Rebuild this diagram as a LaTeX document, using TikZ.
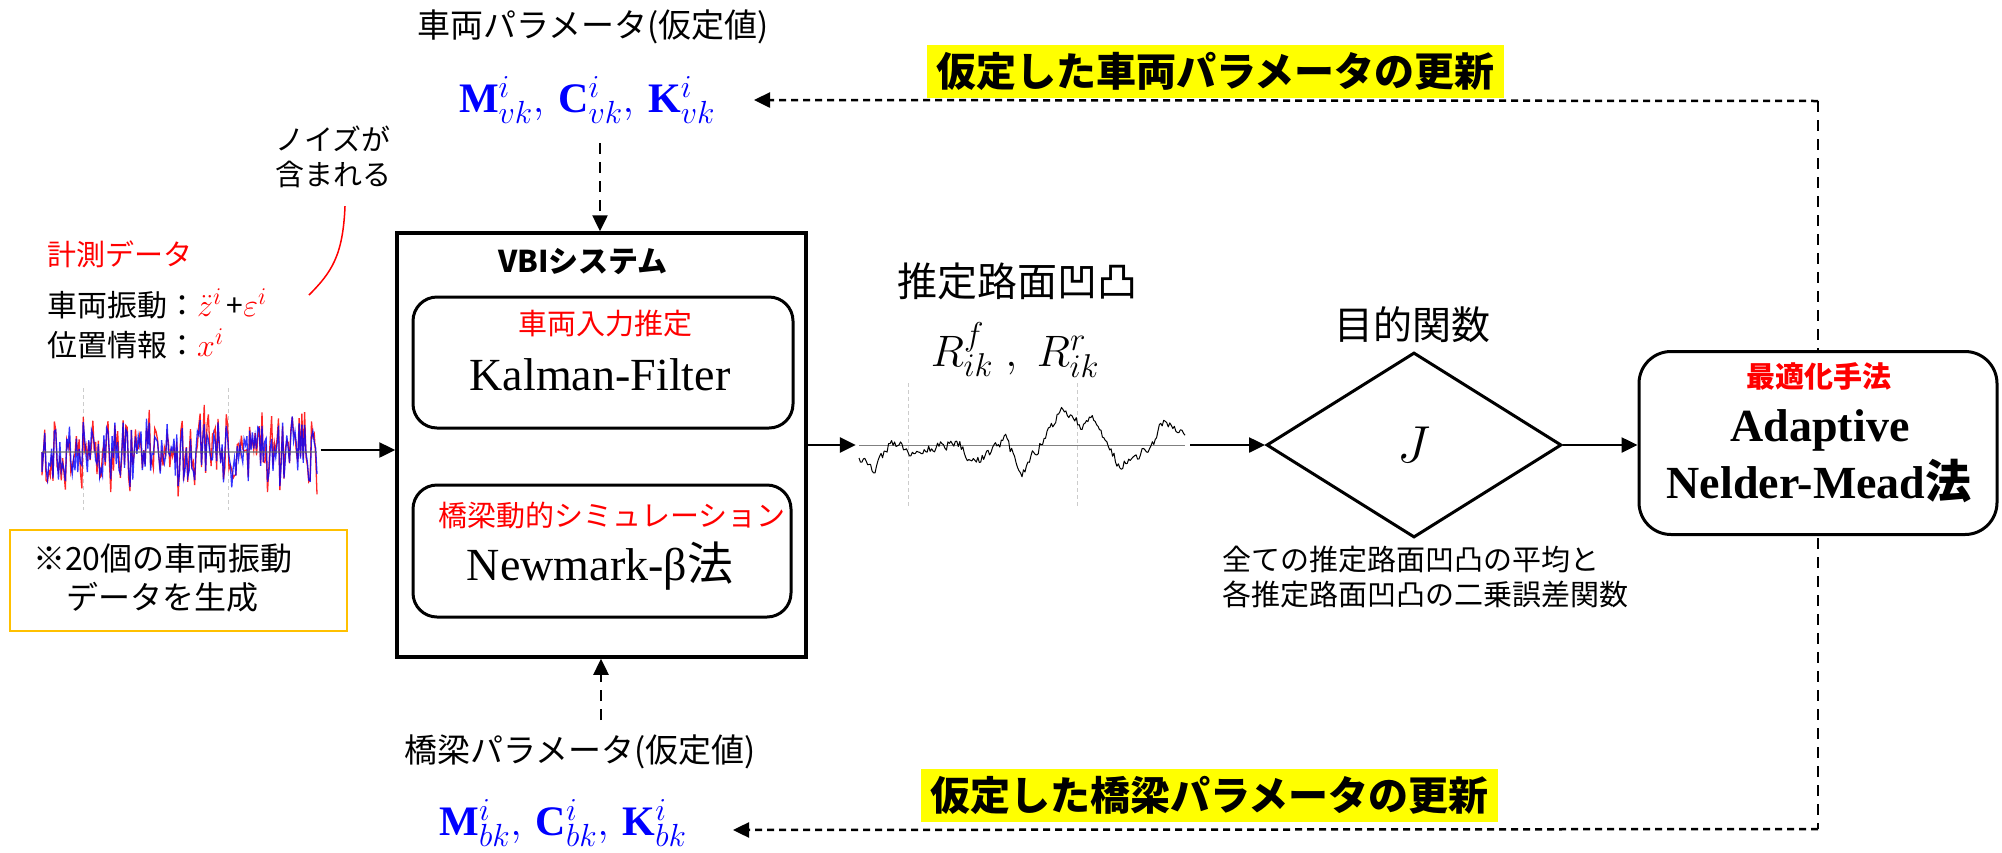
\RequirePackage{fix-cm}
\documentclass[tikz,border=0pt]{standalone}
\usepackage{fontspec}
\setmainfont{Liberation Serif}
\newfontfamily\jp{Noto Sans CJK JP}
\usetikzlibrary{arrows.meta,shapes.geometric}
\DeclareMathSizes{42}{42}{32}{24}
\DeclareMathSizes{44}{44}{33}{25}
\DeclareMathSizes{32}{32}{24}{18}
\DeclareMathSizes{52}{52}{38}{28}
\newcommand\myfs[2]{\fontsize{#1}{#2}\selectfont}
\definecolor{hlyellow}{HTML}{FFFF00}
\definecolor{boxorange}{HTML}{FFC000}
\tikzset{
  arr/.style={line width=2.5pt,-{Triangle[length=16pt,width=15pt]}},
  darrh/.style={line width=2.5pt,dash pattern=on 7pt off 5pt},
  darrv/.style={line width=2.5pt,dash pattern=on 11pt off 8pt},
  thickbox/.style={draw,line width=3pt,inner sep=0pt},
  rbox/.style={thickbox,rounded corners=24pt},
  lbl/.style={inner sep=0pt,font=\jp},
}
\begin{document}
\begin{tikzpicture}[x=1pt,y=-1pt]
\useasboundingbox (0,0) rectangle (2002,852);
% ---------- top parameters ----------
\node[lbl] (vparam) at (593,27) {\myfs{33}{40}車両パラメータ(仮定値)};
\node[inner sep=0pt,text=blue] (mvk) at (587,100) {\myfs{42}{48}$\mathbf{M}^{i}_{vk},\,\mathbf{C}^{i}_{vk},\,\mathbf{K}^{i}_{vk}$};
\coordinate (mvkin) at (754,100);
\coordinate (vtop) at (600,143);
% ---------- VBI system ----------
\node[thickbox,line width=3.5pt,minimum width=409pt,minimum height=424pt] (vbi) at (601.5,445) {};
\node[lbl] (vbit) at (583,262) {\myfs{30}{36}\bfseries VBIシステム};
\node[rbox,minimum width=380pt,minimum height=131pt] (kal) at (603,362.5) {};
\node[lbl,text=red] (kalt) at (605,324) {\myfs{29}{35}車両入力推定};
\node[inner sep=0pt,anchor=base] (kaln) at (600,390) {\myfs{46}{50}Kalman-Filter};
\node[rbox,minimum width=378pt,minimum height=132pt] (nwm) at (602,551) {};
\node[lbl,text=red] (nwmt) at (612,515) {\myfs{29}{35}橋梁動的シミュレーション};
\node[inner sep=0pt,anchor=base] (nwmn) at (600,580) {\myfs{46}{50}Newmark-β{\jp 法}};
% ---------- bottom parameters ----------
\node[lbl] (bparam) at (580,752) {\myfs{33}{40}橋梁パラメータ(仮定値)};
\node[inner sep=0pt,text=blue] (mbk) at (563,823) {\myfs{42}{48}$\mathbf{M}^{i}_{bk},\,\mathbf{C}^{i}_{bk},\,\mathbf{K}^{i}_{bk}$};
\coordinate (mbkin) at (733,830);
\coordinate (vbot) at (601,720);
% ---------- left: measured data ----------
\node[lbl,align=center,font=\jp\myfs{29}{35}] (noise) at (333,157) {ノイズが\\含まれる};
\node[lbl,anchor=west,text=red] (meas) at (47,254) {\myfs{29}{35}計測データ};
\node[lbl,anchor=west] (vib) at (47,304) {\myfs{30}{36}車両振動：{\myfs{32}{36}\color{red}$\ddot{z}^{i}$}\,+{\myfs{32}{36}\color{red}$\varepsilon^{i}$}};
\node[lbl,anchor=west] (pos) at (47,344) {\myfs{30}{36}位置情報：{\myfs{32}{36}\color{red}$x^{i}$}};
\draw[red,line width=1.5pt] (noise.south) ++(12,18) .. controls (343,255) and (332,272) .. (309,295);
% signal plot
\node[inner sep=0pt,minimum width=275pt,minimum height=122pt] (sig) at (180,450) {};
\draw[gray!40,line width=0.8pt,dash pattern=on 4pt off 3pt] (83,388) -- (83,510) (228,388) -- (228,510);
\pgfmathsetseed{11}
\xdef\rs{}\xdef\bs{}
\foreach \k in {0,...,200}{
  \pgfmathsetmacro\xx{42+1.375*\k}
  \pgfmathsetmacro\ra{rand}\pgfmathsetmacro\rb{rand}
  \pgfmathsetmacro\rc{rand}\pgfmathsetmacro\rd{rand}
  \pgfmathsetmacro\vb{30*\ra+10*\rb*\rb*\rb}
  \pgfmathsetmacro\vr{\vb+10*\rc+22*\rd*\rd*\rd}
  \pgfmathsetmacro\yb{452+\vb}\pgfmathsetmacro\yr{452+\vr}
  \xdef\rs{\rs -- (\xx,\yr)}
  \xdef\bs{\bs -- (\xx,\yb)}
}
\draw[red,opacity=0.85,line width=1.3pt] (42,452) \rs;
\draw[blue,opacity=0.8,line width=1.3pt] (42,452) \bs;
\draw[black!60,opacity=0.6,line width=1.2pt] (42,452) -- (317,452);
% note box
\node[draw=boxorange,line width=2pt,minimum width=337pt,minimum height=101pt,inner sep=0pt] (note) at (178.5,580.5) {};
\node[lbl,anchor=west,align=left,font=\jp\myfs{32}{39}] (notet) at (33,578) {※20個の車両振動\\\hspace*{1.05em}データを生成};
% ---------- road profile ----------
\node[lbl] (roadt) at (1017,281) {\myfs{40}{46}推定路面凹凸};
\node[inner sep=0pt] (rik) at (1015,350) {\myfs{44}{48}$R^{f}_{ik}\;,\;R^{r}_{ik}$};
\node[inner sep=0pt,minimum width=326pt,minimum height=100pt] (road) at (1022,445) {};
\draw[gray!40,line width=0.8pt,dash pattern=on 4pt off 3pt] (908,383) -- (908,507) (1077,383) -- (1077,507);
\draw[black!50,line width=0.8pt] (859,445) -- (1185,445);
\pgfmathsetseed{5}
\xdef\rp{}\xdef\nz{0}
\foreach \ta/\ya/\tb/\yb in {0/13/0.04/28,0.04/28/0.1/-5,0.1/-5/0.15/8,0.15/8/0.3/-3,0.3/-3/0.36/18,0.36/18/0.45/-5,0.45/-5/0.5/28,0.5/28/0.55/2,0.55/2/0.63/-38,0.63/-38/0.68/-18,0.68/-18/0.72/-28,0.72/-28/0.8/22,0.8/22/0.9/2,0.9/2/0.93/-23,0.93/-23/1/-13}{
  \pgfmathtruncatemacro\nseg{max(2,round((\tb-\ta)*220))}
  \foreach \k in {1,...,\nseg}{
    \pgfmathsetmacro\tt{\ta+(\tb-\ta)*\k/\nseg}
    \pgfmathsetmacro\nn{0.45*\nz+5*rand}
    \xdef\nz{\nn}
    \pgfmathsetmacro\yy{445+\ya+(\yb-\ya)*\k/\nseg+\nn}
    \pgfmathsetmacro\xx{859+326*\tt}
    \xdef\rp{\rp -- (\xx,\yy)}
  }
}
\draw[black,line width=1pt,line join=round] (859,458) \rp;
% ---------- objective ----------
\node[lbl] (objt) at (1412,325) {\myfs{39}{46}目的関数};
\node[draw,diamond,aspect=1.6,line width=3pt,minimum width=295pt,minimum height=185pt,inner sep=0pt] (obj) at (1414,445) {\myfs{52}{52}$J$};
\node[lbl,anchor=north west,align=left,font=\jp\myfs{29}{35}] (objd) at (1222,546) {全ての推定路面凹凸の平均と\\各推定路面凹凸の二乗誤差関数};
% ---------- optimizer ----------
\coordinate (tr) at (1818,101);
\coordinate (br) at (1818,829);
\draw[darrv] (tr) -- (br);
\node[thickbox,rounded corners=32pt,fill=white,minimum width=358pt,minimum height=183pt] (nm) at (1818,443) {};
\node[lbl,text=red] (nmt) at (1819,376) {\myfs{29}{35}\bfseries 最適化手法};
\node[inner sep=0pt,anchor=base] (nma) at (1820,441) {\myfs{46}{50}\bfseries Adaptive};
\node[inner sep=0pt,anchor=base] (nmb) at (1819,498) {\myfs{46}{50}\bfseries Nelder-Mead{\jp 法}};
% ---------- update labels ----------
\node[fill=hlyellow,inner sep=0pt,minimum width=577pt,minimum height=53pt,font=\jp] (upv) at (1215.5,71.5) {\myfs{40}{46}\bfseries 仮定した車両パラメータの更新};
\node[fill=hlyellow,inner sep=0pt,minimum width=577pt,minimum height=53pt,font=\jp] (upb) at (1209.5,795.5) {\myfs{40}{46}\bfseries 仮定した橋梁パラメータの更新};
% ---------- connectors ----------
\draw[arr] ([xshift=3pt]sig.east) -- (vbi.west |- sig.east);
\draw[arr] (vbi.east) -- ([xshift=-3pt]road.west);
\draw[arr] ([xshift=5pt]road.east) -- (obj.west);
\draw[arr] (obj.east) -- (obj.east -| nm.west);
\draw[darrv,-{Triangle[length=16pt,width=15pt]}] (vtop) -- (vtop |- vbi.north);
\draw[darrv,-{Triangle[length=16pt,width=15pt]}] (vbot) -- (vbot |- vbi.south);
\draw[darrh,-{Triangle[length=16pt,width=15pt]}] (tr) -- (mvkin);
\draw[darrh,-{Triangle[length=16pt,width=15pt]}] (br) -- (mbkin);
\end{tikzpicture}
\end{document}
